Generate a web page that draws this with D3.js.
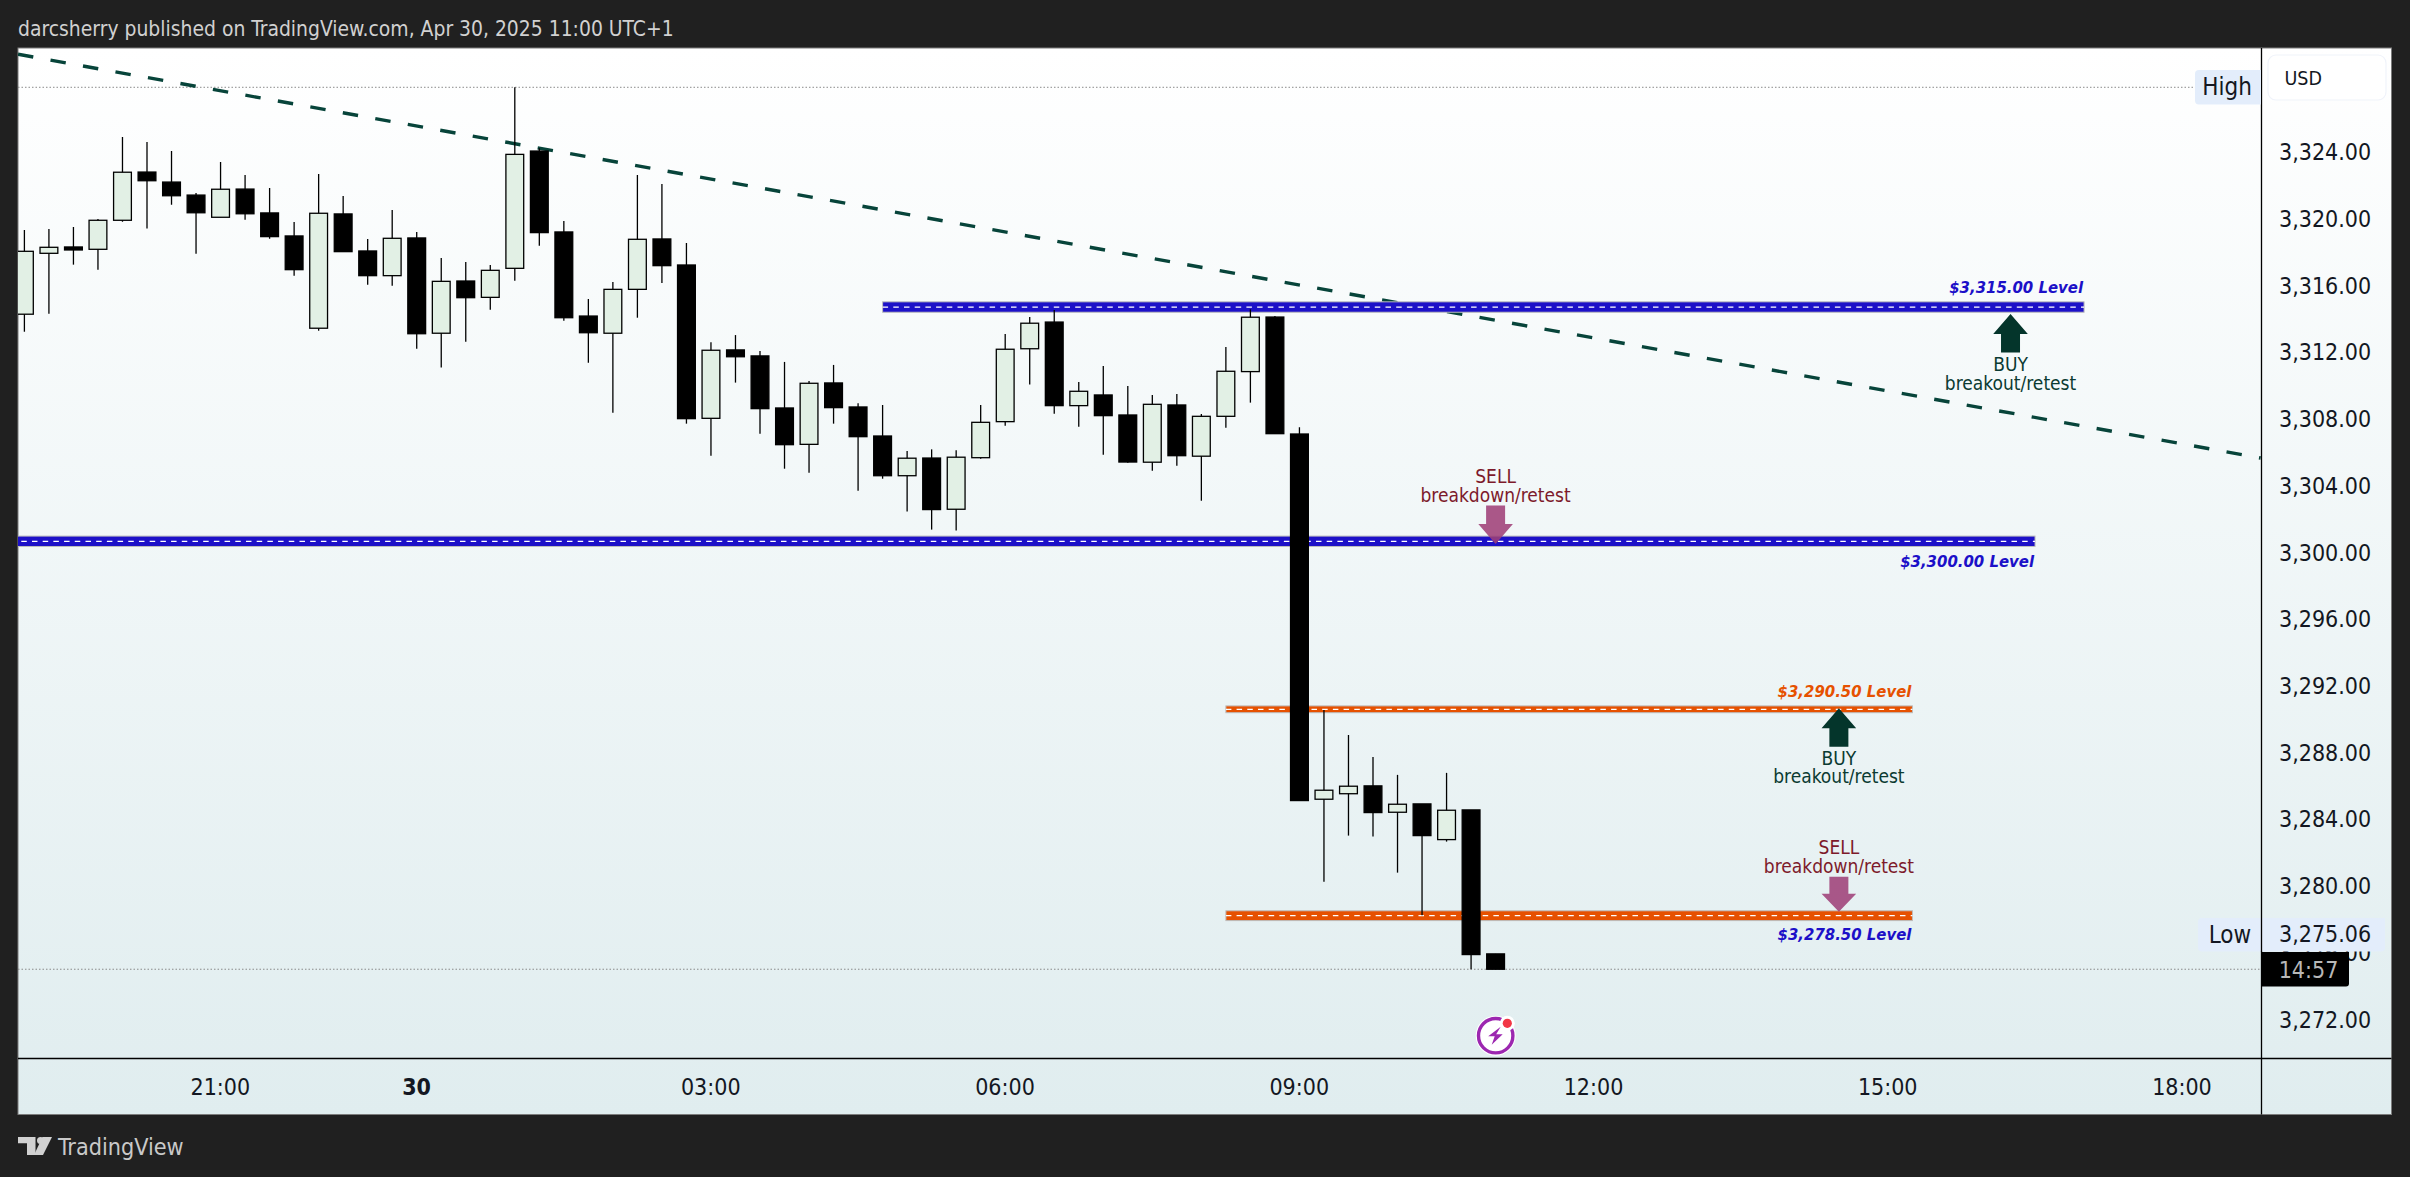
<!DOCTYPE html>
<html>
<head>
<meta charset="utf-8">
<title>darcsherry XAUUSD 15m</title>
<script src="https://cdn.jsdelivr.net/npm/d3@7"></script>
<style>
  html, body { margin: 0; padding: 0; background: #202020; overflow: hidden; }
  svg { display: block; }
  text { font-family: "DejaVu Sans Condensed", "DejaVu Sans", sans-serif; font-stretch: condensed; }
</style>
</head>
<body>
<svg id="chart"></svg>
<script>
// 15m candles, one value per bar
const opens = [3314.32,3317.97,3318.35,3318.21,3319.95,3322.84,3322.24,3321.46,3320.13,3321.82,
  3320.39,3319.01,3313.48,3320.33,3318.11,3316.63,3318.89,3313.18,3316.31,3315.33,
  3317.07,3324.10,3319.25,3314.21,3313.18,3315.81,3318.83,3317.27,3308.08,3312.18,
  3311.82,3308.70,3306.52,3310.20,3308.76,3307.02,3304.64,3305.70,3302.63,3305.72,
  3307.88,3312.25,3313.85,3308.84,3309.48,3308.28,3305.45,3308.88,3305.81,3308.20,
  3310.88,3314.15,3307.14,3285.25,3285.58,3286.05,3284.47,3284.97,3282.83,3284.61,3275.98];
const highs = [3319.37,3319.43,3319.55,3320.03,3324.94,3324.64,3324.10,3321.58,3323.44,3322.66,
  3321.88,3319.85,3322.72,3321.41,3318.83,3320.57,3319.25,3317.69,3317.45,3317.27,
  3327.92,3324.26,3319.91,3315.23,3316.25,3322.66,3322.12,3318.59,3312.64,3313.07,
  3312.12,3311.46,3310.32,3311.28,3308.98,3308.88,3306.12,3306.22,3306.16,3308.88,
  3313.13,3314.15,3314.57,3310.26,3311.22,3310.02,3309.48,3309.54,3308.34,3312.36,
  3314.61,3314.21,3307.54,3290.60,3289.10,3287.78,3286.71,3284.97,3286.83,3284.61,3275.98];
const lows = [3313.27,3314.35,3317.29,3316.99,3319.86,3319.45,3320.88,3317.95,3320.13,3319.98,
  3318.85,3316.63,3313.33,3318.07,3316.09,3316.03,3312.25,3311.12,3312.67,3314.59,
  3316.33,3318.43,3313.93,3311.41,3308.42,3314.11,3316.19,3307.76,3305.84,3310.22,
  3307.16,3305.06,3304.82,3307.76,3303.74,3304.46,3302.49,3301.41,3301.35,3305.66,
  3307.64,3310.10,3308.36,3307.58,3305.90,3305.42,3304.94,3305.24,3303.14,3307.52,
  3309.02,3307.16,3285.17,3280.31,3283.07,3283.01,3280.85,3278.30,3282.71,3275.06,3275.06];
const closes = [3318.09,3318.33,3318.17,3319.95,3322.83,3322.32,3321.42,3320.40,3321.81,3320.34,
  3318.97,3316.99,3320.37,3318.07,3316.63,3318.87,3313.15,3316.29,3315.31,3316.95,
  3323.90,3319.21,3314.11,3313.21,3315.81,3318.81,3317.23,3308.06,3312.16,3311.77,
  3308.66,3306.50,3310.18,3308.72,3306.98,3304.64,3305.69,3302.61,3305.75,3307.84,
  3312.22,3313.78,3308.84,3309.70,3308.24,3305.46,3308.92,3305.84,3308.20,3310.90,
  3314.14,3307.16,3285.17,3285.79,3286.03,3284.45,3284.95,3283.07,3284.59,3275.94,3275.06];

const priceTicks = [3324,3320,3316,3312,3308,3304,3300,3296,3292,3288,3284,3280,3276,3272];
const timeTickBars = [8,16,28,40,52,64,76,88];
const timeTickLabels = ["21:00","30","03:00","06:00","09:00","12:00","15:00","18:00"];

const highPrice = 3327.92;
const lowPrice = 3275.06;

// drawn levels: price where the band sits, first and last bar, label
const levelPrices = [3314.75, 3300.71, 3290.64, 3278.27];
const levelFrom = [35, -1, 49, 49];
const levelTo = [84, 82, 77, 77];
const levelLabels = ["$3,315.00 Level","$3,300.00 Level","$3,290.50 Level","$3,278.50 Level"];

// arrows: bar, tip price, kind
const arrowBars = [81, 60, 74, 74];
const arrowTips = [3314.33, 3300.55, 3290.70, 3278.50];
const arrowKinds = ["BUY","SELL","BUY","SELL"];
const arrowNotes = ["breakout/retest","breakdown/retest","breakout/retest","breakdown/retest"];

const trendBars = [-0.26, 91.2];
const trendPrices = [3329.9, 3305.7];

const width = 2410, height = 1177;
const pane = { left: 18, top: 48, right: 2261.5, bottom: 1058.5, frameRight: 2391.5, frameBottom: 1114.5 };

const x = d3.scaleLinear().domain([0, 60]).range([24.4, 1495.6]);
const y = d3.scaleLinear().domain([3324, 3272]).range([152.7, 1020.3]);

const svg = d3.select("#chart").attr("width", width).attr("height", height);

const defs = svg.append("defs");
const grad = defs.append("linearGradient").attr("id", "bg").attr("x1", 0).attr("x2", 0).attr("y1", 0).attr("y2", 1);
grad.append("stop").attr("offset", "0%").attr("stop-color", "#ffffff");
grad.append("stop").attr("offset", "100%").attr("stop-color", "#e0edef");
defs.append("clipPath").attr("id", "paneClip").append("rect")
  .attr("x", pane.left).attr("y", pane.top)
  .attr("width", pane.right - pane.left).attr("height", pane.bottom - pane.top);

// page frame
svg.append("rect").attr("width", width).attr("height", height).attr("fill", "#202020");
svg.append("rect")
  .attr("x", pane.left).attr("y", pane.top)
  .attr("width", pane.frameRight - pane.left).attr("height", pane.frameBottom - pane.top)
  .attr("fill", "url(#bg)").attr("stroke", "#7c7c7c").attr("stroke-width", 1);

svg.append("text").attr("x", 18).attr("y", 28).attr("dy", "0.36em")
  .attr("font-size", 20.9).attr("fill", "#d1d1d1")
  .text("darcsherry published on TradingView.com, Apr 30, 2025 11:00 UTC+1");

const plot = svg.append("g").attr("clip-path", "url(#paneClip)");

// high / low dotted lines
plot.append("line").attr("x1", pane.left).attr("x2", 2195)
  .attr("y1", y(highPrice)).attr("y2", y(highPrice))
  .attr("stroke", "#8a8a8a").attr("stroke-dasharray", "1.5 2");
plot.append("line").attr("x1", pane.left).attr("x2", pane.right)
  .attr("y1", y(lowPrice)).attr("y2", y(lowPrice))
  .attr("stroke", "#8a8a8a").attr("stroke-dasharray", "1.5 2");

// trendline
plot.append("path")
  .datum(trendBars.map((b, i) => [b, trendPrices[i]]))
  .attr("fill", "none").attr("stroke", "#07443a").attr("stroke-width", 3.4)
  .attr("stroke-dasharray", "15.5 17.5")
  .attr("d", d3.line().x(d => x(d[0])).y(d => y(d[1])));

// level bands
const levelColors = ["#1c10c8", "#1c10c8", "#e65100", "#e65100"];
const levelThick = [10.4, 10.4, 6.8, 9.8];
const levelG = plot.selectAll(".level").data(levelPrices).join("g").attr("class", "level");
levelG.append("rect")
  .attr("x", (d, i) => x(levelFrom[i]))
  .attr("width", (d, i) => x(levelTo[i]) - x(levelFrom[i]))
  .attr("y", (d, i) => y(d) - levelThick[i] / 2)
  .attr("height", (d, i) => levelThick[i])
  .attr("fill", (d, i) => levelColors[i])
  .attr("stroke", "#bdbdbd").attr("stroke-width", 1);
levelG.append("line")
  .attr("x1", (d, i) => x(levelFrom[i])).attr("x2", (d, i) => x(levelTo[i]))
  .attr("y1", d => y(d)).attr("y2", d => y(d))
  .attr("stroke", "#ffffff").attr("stroke-width", 1.2).attr("stroke-dasharray", "5.5 5.2");

// candles
const bars = d3.range(opens.length);
const bodyW = 19;
const candle = plot.selectAll(".candle").data(bars).join("g").attr("class", "candle");
candle.append("line")
  .attr("x1", i => x(i)).attr("x2", i => x(i))
  .attr("y1", i => y(highs[i])).attr("y2", i => y(lows[i]))
  .attr("stroke", "#000").attr("stroke-width", 1.3);
candle.append("rect")
  .attr("x", i => x(i) - bodyW / 2 + 0.6)
  .attr("width", bodyW - 1.2)
  .attr("y", i => y(Math.max(opens[i], closes[i])))
  .attr("height", i => Math.abs(y(opens[i]) - y(closes[i])))
  .attr("fill", i => closes[i] > opens[i] ? "#e2f0e5" : "#000")
  .attr("stroke", "#000").attr("stroke-width", 1.3);

// level labels
const labelColors = ["#1c10c8", "#1c10c8", "#e65100", "#1c10c8"];
const labelOffset = [-20.5, 20, -18.5, 18.5];
plot.selectAll(".levelLabel").data(levelLabels).join("text").attr("class", "levelLabel")
  .attr("x", (d, i) => x(levelTo[i]) - 1)
  .attr("y", (d, i) => y(levelPrices[i]) + labelOffset[i])
  .attr("dy", "0.36em")
  .attr("text-anchor", "end").attr("font-size", 16.6)
  .attr("font-style", "italic").attr("font-weight", "bold")
  .attr("fill", (d, i) => labelColors[i])
  .text(d => d);

// arrows and their notes, the last one is a bit shorter
const arrowShape = h => `M0,0 L17.3,${h * 0.52} L9.5,${h * 0.52} L9.5,${h} L-9.5,${h} L-9.5,${h * 0.52} L-17.3,${h * 0.52} Z`;
const arrowLength = [38.4, 38.4, 38.4, 35];
const kindGap = [50.4, -67.5, 49.4, -64.3];
const noteGap = [69, -49, 67.7, -46];
const arrowG = plot.selectAll(".arrow").data(arrowBars).join("g").attr("class", "arrow")
  .attr("transform", (d, i) => `translate(${x(d)},${y(arrowTips[i])})`);
arrowG.append("path")
  .attr("d", (d, i) => arrowShape(arrowLength[i]))
  .attr("transform", (d, i) => arrowKinds[i] === "SELL" ? "scale(1,-1)" : null)
  .attr("fill", (d, i) => arrowKinds[i] === "SELL" ? "#9e3f77" : "#04352b")
  .attr("fill-opacity", (d, i) => arrowKinds[i] === "SELL" ? 0.87 : 1);
arrowG.append("text")
  .attr("text-anchor", "middle").attr("font-size", 19)
  .attr("y", (d, i) => kindGap[i])
  .attr("dy", "0.36em")
  .attr("fill", (d, i) => arrowKinds[i] === "SELL" ? "#7d1a2b" : "#0b3b32")
  .text((d, i) => arrowKinds[i]);
arrowG.append("text")
  .attr("text-anchor", "middle").attr("font-size", 19)
  .attr("y", (d, i) => noteGap[i])
  .attr("dy", "0.36em")
  .attr("fill", (d, i) => arrowKinds[i] === "SELL" ? "#7d1a2b" : "#0b3b32")
  .text((d, i) => arrowNotes[i]);

// axis lines
svg.append("line").attr("x1", pane.right).attr("x2", pane.right)
  .attr("y1", pane.top).attr("y2", pane.frameBottom).attr("stroke", "#000").attr("stroke-width", 1.3);
svg.append("line").attr("x1", pane.left).attr("x2", pane.frameRight)
  .attr("y1", pane.bottom).attr("y2", pane.bottom).attr("stroke", "#000").attr("stroke-width", 1.3);

// price axis
const yAxis = svg.append("g").attr("transform", `translate(${pane.right},0)`)
  .call(d3.axisRight(y).tickValues(priceTicks).tickSize(0).tickPadding(17.5).tickFormat(d3.format(",.2f")));
yAxis.select(".domain").remove();
yAxis.attr("font-family", null);
yAxis.selectAll("text").attr("y", -0.5).attr("font-size", 23).attr("fill", "#131722");

// time axis
const xAxis = svg.append("g").attr("transform", `translate(-0.7,${pane.bottom})`)
  .call(d3.axisBottom(x).tickValues(timeTickBars).tickSize(0).tickPadding(0)
    .tickFormat((d, i) => timeTickLabels[i]));
xAxis.select(".domain").remove();
xAxis.attr("font-family", null);
xAxis.selectAll("text").attr("y", 28).attr("dy", "0.36em").attr("font-size", 23)
  .attr("fill", "#131722")
  .attr("font-weight", (d, i) => timeTickLabels[i] === "30" ? "bold" : null);

// USD box
svg.append("rect").attr("x", 2268).attr("y", 55).attr("width", 118).attr("height", 45).attr("rx", 8)
  .attr("fill", "#fff").attr("stroke", "#f0f3fa").attr("stroke-width", 1.2);
svg.append("text").attr("x", 2284.5).attr("y", 77.5).attr("dy", "0.36em")
  .attr("font-size", 19.5).attr("fill", "#131722").text("USD");

// High badge
svg.append("path").attr("d", "M2261,70 H2199 a4,4 0 0 0 -4,4 V100.5 a4,4 0 0 0 4,4 H2261 Z").attr("fill", "#e3edfb");
svg.append("text").attr("x", 2227).attr("y", 86.5).attr("dy", "0.36em").attr("text-anchor", "middle")
  .attr("font-size", 24).attr("fill", "#131722").text("High");

// Low badge with last low price
svg.append("path").attr("d", "M2385,918 H2202 a4,4 0 0 0 -4,4 V947.5 a4,4 0 0 0 4,4 H2381 a4,4 0 0 0 4,-4 Z").attr("fill", "#e3edfb");
svg.append("line").attr("x1", pane.right).attr("x2", pane.right).attr("y1", 918).attr("y2", 952)
  .attr("stroke", "#000").attr("stroke-width", 1.3);
svg.append("text").attr("x", 2230).attr("y", 934).attr("dy", "0.36em").attr("text-anchor", "middle")
  .attr("font-size", 24).attr("fill", "#131722").text("Low");
svg.append("text").attr("x", 2279).attr("y", 934).attr("dy", "0.36em")
  .attr("font-size", 23).attr("fill", "#131722").text(d3.format(",.2f")(lowPrice));

// countdown badge
svg.append("path").attr("d", "M2262,952 H2349 V983.5 a3,3 0 0 1 -3,3 H2262 Z").attr("fill", "#000");
svg.append("text").attr("x", 2308.5).attr("y", 969.5).attr("dy", "0.36em").attr("text-anchor", "middle")
  .attr("font-size", 23).attr("fill", "#b8b8b8").text("14:57");

// lightning badge
const bolt = svg.append("g").attr("transform", "translate(1495.7,1035.7)");
bolt.append("circle").attr("r", 20).attr("fill", "#fff");
bolt.append("circle").attr("r", 17.2).attr("fill", "none").attr("stroke", "#9c27b0").attr("stroke-width", 3.4);
bolt.append("path").attr("d", "M5,-9 L-7.5,0.5 L-1,0.5 L-4,9 L7,-1.5 L0.5,-1.5 Z").attr("fill", "#9c27b0");
bolt.append("circle").attr("cx", 11.6).attr("cy", -12.4).attr("r", 7.5).attr("fill", "#fff");
bolt.append("circle").attr("cx", 11.6).attr("cy", -12.4).attr("r", 4.6).attr("fill", "#f23645");

// TradingView footer mark
const logo = svg.append("g").attr("fill", "#d1d1d1");
logo.append("path").attr("d", "M18,1137 H35.5 V1155 H27 V1143.3 H18 Z");
logo.append("circle").attr("cx", 40.5).attr("cy", 1140.5).attr("r", 3.5);
logo.append("path").attr("d", "M43,1155 H34 L42.5,1137 H52 Z");
svg.append("text").attr("x", 58).attr("y", 1147).attr("dy", "0.36em")
  .attr("font-size", 23.2).attr("fill", "#c9c9c9").text("TradingView");
</script>
</body>
</html>
